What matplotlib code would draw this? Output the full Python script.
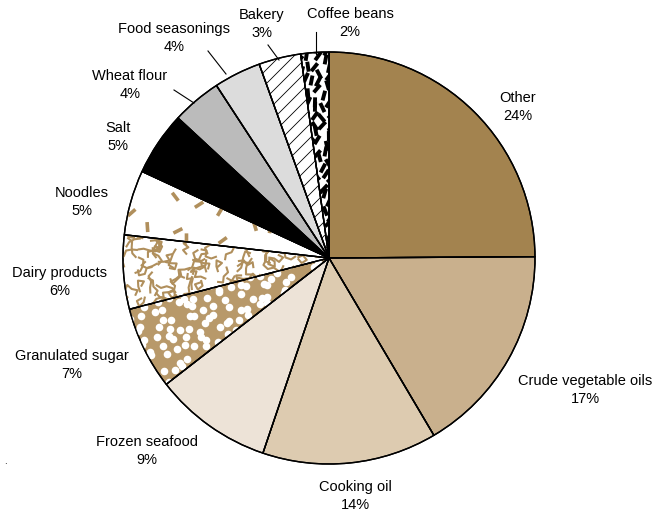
import numpy as np
import matplotlib
matplotlib.use("Agg")
import matplotlib.pyplot as plt
from matplotlib.collections import LineCollection
from matplotlib.patches import Wedge

plt.rcParams['font.family'] = ['Liberation Sans', 'DejaVu Sans']

# data (clockwise from 12 o'clock)
categories = ["Other", "Crude vegetable oils", "Cooking oil", "Frozen seafood",
              "Granulated sugar", "Dairy products", "Noodles", "Salt",
              "Wheat flour", "Food seasonings", "Bakery", "Coffee beans"]
shares = [24.9, 16.6, 13.7, 9.3, 6.5, 5.8, 5.1, 5.0, 3.9, 3.7, 3.3, 2.2]
pct_labels = ["24%", "17%", "14%", "9%", "7%", "6%", "5%", "5%", "4%", "4%", "3%", "2%"]

colors = ["#a3834f", "#c9b08d", "#ddcbb0", "#ede3d7", "#b8996a", "white",
          "white", "black", "#bbbbbb", "#dcdcdc", "white", "white"]
TAN = "#b08f5c"

# pixel layout of the reference
W, H = 655, 511
CX, CY, R = 329, 258, 206

def px(x, y):
    return ((x - CX) / R, (CY - y) / R)

fig = plt.figure(figsize=(W / 100, H / 100), dpi=100)
ax = fig.add_axes([0, 0, 1, 1])
wedges, _ = ax.pie(shares, colors=colors, startangle=90, counterclock=False,
                   wedgeprops=dict(edgecolor="black", linewidth=1.0))
ax.set_xlim(-CX / R, (W - CX) / R)
ax.set_ylim(-(H - CY) / R, CY / R)
ax.set_aspect('equal')
ax.axis('off')

rng = np.random.default_rng(3)
u = 1.0 / R  # one pixel in data units


def grid_points(step):
    g = np.arange(-1.05, 1.05, step * u)
    xx, yy = np.meshgrid(g, g)
    pts = np.column_stack([xx.ravel(), yy.ravel()])
    pts += rng.uniform(-0.45, 0.45, pts.shape) * step * u
    return pts[np.hypot(pts[:, 0], pts[:, 1]) < 1.03]


def dashes(step, length, angles=None):
    pts = grid_points(step)
    n = len(pts)
    a = rng.uniform(0, np.pi, n) if angles is None else angles(n)
    d = np.column_stack([np.cos(a), np.sin(a)]) * length * u / 2
    return np.stack([pts - d, pts + d], axis=1)


# Granulated sugar: white dots on tan
w = wedges[4]
p = grid_points(10.5)
sc = ax.scatter(p[:, 0], p[:, 1], s=30, c="white", linewidths=0, zorder=3)
sc.set_clip_path(w)

# Dairy products: tan squiggles
w = wedges[5]
p = grid_points(12)
segs = []
for x0, y0 in p:
    ang = rng.uniform(0, 2 * np.pi)
    xs, ys = [x0], [y0]
    for _ in range(4):
        ang += rng.uniform(-2.0, 2.0)
        xs.append(xs[-1] + np.cos(ang) * 6 * u)
        ys.append(ys[-1] + np.sin(ang) * 6 * u)
    segs.append(np.column_stack([xs, ys]))
lc = LineCollection(segs, colors=TAN, linewidths=1.5, zorder=3)
ax.add_collection(lc)
lc.set_clip_path(w)

# Noodles: sparse tan dashes
w = wedges[6]
lc = LineCollection(dashes(27, 10), colors=TAN, linewidths=2.6, zorder=3)
ax.add_collection(lc)
lc.set_clip_path(w)

# Bakery: thin diagonal hatch
w = wedges[10]
offs = np.arange(-1.5, 1.5, 14 * u)
segs = [[(-1.5, -1.5 + o), (1.5, 1.5 + o)] for o in offs]
lc = LineCollection(segs, colors="black", linewidths=0.6, zorder=3)
ax.add_collection(lc)
lc.set_clip_path(w)

# Coffee beans: thick black dashes
w = wedges[11]
lc = LineCollection(dashes(8.5, 10, lambda n: rng.uniform(np.pi / 4, 3 * np.pi / 4, n)),
                    colors="black", linewidths=2.8, zorder=3)
ax.add_collection(lc)
lc.set_clip_path(w)

# outlines on top of the textures
for w in wedges:
    ax.add_patch(Wedge(w.center, w.r, w.theta1, w.theta2, facecolor="none",
                       edgecolor="black", linewidth=1.0, zorder=4))

# labels (pixel positions of the text blocks in the reference)
label_px = [(518, 107), (585, 390), (355, 496), (147, 451), (72, 365),
            (60, 282), (82, 202), (118, 137), (130, 85), (174, 38),
            (262, 24), (350, 23)]
for name, pct, (lx, ly) in zip(categories, pct_labels, label_px):
    ax.text(*px(lx, ly), f"{name}\n{pct}", ha="center", va="center",
            fontsize=10.5, linespacing=1.3)

# leader lines
leaders = [((174, 90), (194, 103)), ((208, 51), (226, 74)),
           ((268, 45), (279, 60)), ((316, 32), (316, 54))]
for a, b in leaders:
    ax.plot(*zip(px(*a), px(*b)), color="black", linewidth=0.8, zorder=5)

ax.text(*px(5, 461), ".", ha="center", va="center", fontsize=7)

fig.savefig("out.png", dpi=100)
